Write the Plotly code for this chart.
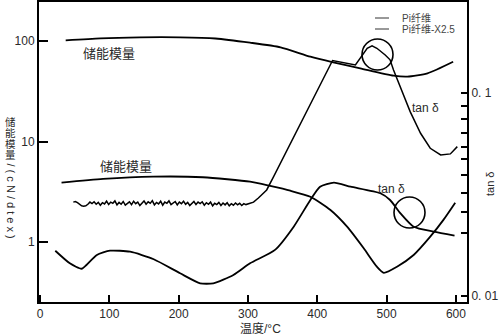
import plotly.graph_objects as go

# ---- data -------------------------------------------------------------
# storage modulus (cN/dtex), Pi fibre
mod1_T = [37, 87, 144, 202, 253, 303, 347, 390, 423, 462, 510, 530, 559, 596]
mod1_E = [101.6, 106.4, 108.8, 108.8, 105.9, 96.2, 86.5, 69.8, 61.4, 53.5, 45.2, 44.2, 47.7, 62.2]

# storage modulus (cN/dtex), Pi fibre X2.5
mod2_T = [31, 91, 163, 235, 303, 332, 361, 390, 419, 443, 467, 486, 496, 515, 539, 563, 582, 599]
mod2_E = [3.89, 4.24, 4.47, 4.41, 3.98, 3.61, 3.24, 2.82, 2.08, 1.42, 0.865, 0.568, 0.494, 0.568,
          0.743, 1.13, 1.66, 2.46]

# tan delta, Pi fibre (noisy plateau below 300 C)
tan1_T = [48, 51, 54, 57, 60, 63, 66, 69, 72,
          75, 78, 81, 84, 87, 90, 93, 96, 99, 102, 105, 108, 111, 114, 117, 120, 123, 126,
          129, 132, 135, 138, 141, 144, 147, 150, 153, 156, 159, 162, 165, 168, 171, 174,
          177, 180, 183, 186, 189, 192, 195, 198, 201, 204, 207, 210, 213, 216, 219, 222,
          225, 228, 231, 234, 237, 240, 243, 246, 249, 252, 255, 258, 261, 264, 267, 270,
          273, 276, 279, 282, 285, 288, 291, 294, 297, 300, 303,
          308, 315, 327, 337, 344, 422, 455, 462, 472, 479, 486, 498, 505, 510, 520, 534,
          549, 563, 578, 592, 602]
tan1_D = [0.0290, 0.0292, 0.0288, 0.0282, 0.0278, 0.0277, 0.0278, 0.0283, 0.0290,
          0.0285, 0.0291, 0.0283, 0.0289, 0.0280, 0.0288, 0.0284, 0.0293, 0.0282, 0.0290,
          0.0286, 0.0294, 0.0281, 0.0289, 0.0283, 0.0292, 0.0280, 0.0287, 0.0291, 0.0282,
          0.0293, 0.0285, 0.0290, 0.0279, 0.0288, 0.0294, 0.0283, 0.0291, 0.0286, 0.0295,
          0.0281, 0.0289, 0.0284, 0.0293, 0.0280, 0.0290, 0.0286, 0.0294, 0.0282, 0.0288,
          0.0292, 0.0281, 0.0290, 0.0285, 0.0293, 0.0283, 0.0289, 0.0279, 0.0287, 0.0292,
          0.0282, 0.0290, 0.0285, 0.0291, 0.0280, 0.0288, 0.0283, 0.0290, 0.0278, 0.0286,
          0.0282, 0.0289, 0.0279, 0.0287, 0.0281, 0.0288, 0.0278, 0.0285, 0.0280, 0.0287,
          0.0281, 0.0286, 0.0279, 0.0285, 0.0282, 0.0284, 0.0286,
          0.0290, 0.0304, 0.0333, 0.0387, 0.0432, 0.1445, 0.1374, 0.1483, 0.1660, 0.1705,
          0.1660, 0.1538, 0.1456, 0.1298, 0.1074, 0.0809, 0.0633, 0.0534, 0.0495, 0.0501,
          0.0544]

# tan delta, Pi fibre X2.5
tan2_T = [22, 43, 60, 67, 82, 101, 130, 164, 202, 231, 250, 279, 303, 339, 366, 390,
          404, 424, 448, 491, 505, 520, 539, 568, 598]
tan2_D = [0.0167, 0.01448, 0.01362, 0.01422, 0.01592, 0.01671, 0.01652, 0.01517, 0.01294,
          0.01155, 0.01155, 0.01268, 0.01448, 0.01686, 0.02195, 0.02971, 0.03452, 0.03614,
          0.03452, 0.03205, 0.02971, 0.02553, 0.02193, 0.02073, 0.01982]

# axis ticks
temp_ticks = [0, 100, 200, 300, 400, 500, 600]
mod_ticks = [1, 10, 100]
mod_labels = ["1", "10", "100"]
tan_ticks = [0.1, 0.0863, 0.0744, 0.0635, 0.0542, 0.0473, 0.0394, 0.0322, 0.0259, 0.0204, 0.01]
tan_labels = ["0. 1", "", "", "", "", "", "", "", "", "", "0. 01"]

series_names = ["Pi纤维", "Pi纤维-X2.5"]

# ---- layout geometry (pixels of the 500x335 canvas) -------------------
W, H = 500, 335
L, R, T, B = 39, 467, 2, 302
FONT = "Liberation Sans, Arial, Noto Sans CJK SC, sans-serif"
INK = "#2a2a2a"


def px(x):
    return (x - L) / (R - L)


def py(y):
    return (B - y) / (B - T)


line = dict(color="black", width=1.8)

fig = go.Figure()
fig.add_trace(go.Scatter(x=mod1_T, y=mod1_E, mode="lines", name=series_names[0],
                         line=dict(line, shape="spline", smoothing=0.6), showlegend=False))
fig.add_trace(go.Scatter(x=mod2_T, y=mod2_E, mode="lines", name=series_names[1],
                         line=dict(line, shape="spline", smoothing=0.6), showlegend=False))
fig.add_trace(go.Scatter(x=tan1_T, y=tan1_D, mode="lines", name=series_names[0],
                         line=dict(color="black", width=1.5), yaxis="y2", showlegend=False))
fig.add_trace(go.Scatter(x=tan2_T, y=tan2_D, mode="lines", name=series_names[1],
                         line=dict(line, shape="spline", smoothing=0.6), yaxis="y2",
                         showlegend=False))

axis_common = dict(showline=True, linecolor="black", linewidth=2, showgrid=False,
                   zeroline=False, ticks="inside", tickcolor="black", tickwidth=2,
                   tickfont=dict(family=FONT, size=12, color=INK), automargin=False)

fig.update_layout(
    width=W, height=H,
    margin=dict(l=L, r=W - R, t=T, b=H - B),
    paper_bgcolor="white", plot_bgcolor="white",
    font=dict(family=FONT, color=INK),
    xaxis=dict(axis_common, range=[-1.5, 616], tickvals=temp_ticks, ticklen=7, mirror=True),
    yaxis=dict(axis_common, type="log", range=[-0.597, 2.388], tickvals=mod_ticks,
               ticktext=mod_labels, ticklen=9),
    yaxis2=dict(axis_common, type="log", range=[-2.0296, -0.552], overlaying="y",
                side="right", tickvals=tan_ticks, ticktext=tan_labels, ticklen=6),
)

ann = []


def text(x, y, s, size=12, angle=0, color=INK, xanchor="center"):
    ann.append(dict(x=px(x), y=py(y), xref="paper", yref="paper", text=s, showarrow=False,
                    textangle=angle, xanchor=xanchor, yanchor="middle",
                    font=dict(family=FONT, size=size, color=color)))


# curve labels
text(109, 53, "储能模量", 13)
text(126, 166, "储能模量", 13)
text(425, 108, "tan δ", 12)
text(391, 189, "tan δ", 12)

# left axis title: stacked characters followed by the rotated unit
for ch, yy in zip("储能模量", [122, 133, 144, 155]):
    text(10.5, yy, ch, 10.5)
text(10.5, 201, "/ ( c N / d t e x )", 11, angle=90)

# right axis title and x axis title
text(490, 184, "tan δ", 11, angle=-90)
text(260, 328, "温度/°C", 12)

# legend
shapes = []
for name, yy in zip(series_names, [18, 29]):
    shapes.append(dict(type="line", xref="paper", yref="paper", x0=px(375), x1=px(389),
                       y0=py(yy), y1=py(yy), line=dict(color="#333", width=1)))
    text(400, yy, name, 10, color="#444", xanchor="left")

# highlight circles
for cx, cy in [(377.5, 54.5), (409.5, 212.5)]:
    r = 15.5
    shapes.append(dict(type="circle", xref="paper", yref="paper", x0=px(cx - r), x1=px(cx + r),
                       y0=py(cy + r), y1=py(cy - r), line=dict(color="black", width=1.6)))

fig.update_layout(annotations=ann, shapes=shapes)
fig.write_html("out.html")
